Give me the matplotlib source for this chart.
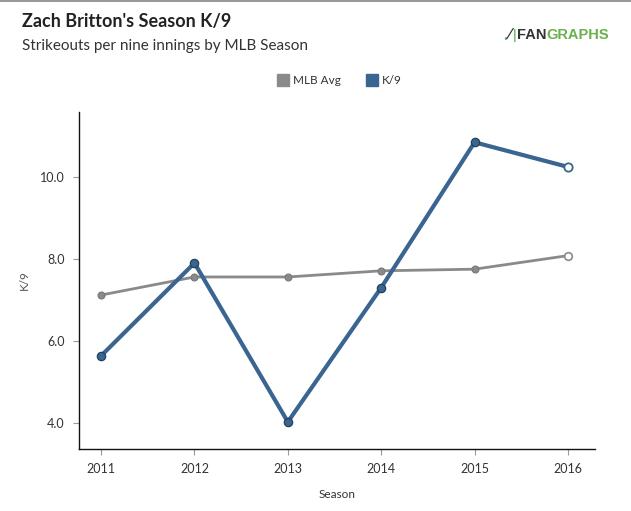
import matplotlib
matplotlib.use("Agg")
import matplotlib.pyplot as plt
from matplotlib.lines import Line2D
from matplotlib.patches import Rectangle

seasons = [2011, 2012, 2013, 2014, 2015, 2016]
mlb_avg = [7.12, 7.56, 7.56, 7.71, 7.75, 8.08]
k9 = [5.64, 7.90, 4.03, 7.30, 10.84, 10.24]
yticks = [4.0, 6.0, 8.0, 10.0]

title = "Zach Britton's Season K/9"
subtitle = "Strikeouts per nine innings by MLB Season"

plt.rcParams['font.family'] = ['Lato', 'DejaVu Sans']

blue = '#3a6591'
blue_edge = '#23405f'
gray = '#8a8a8a'
gray_edge = '#7a7a7a'

fig = plt.figure(figsize=(6.31, 5.11), dpi=100)
fig.patch.set_facecolor('white')
ax = fig.add_axes([0.1247, 0.1213, 0.943 - 0.1247, 0.781 - 0.1213])

ax.plot(seasons, mlb_avg, color=gray, lw=2.0, zorder=2)
ax.plot(seasons[:-1], mlb_avg[:-1], 'o', ms=5, color=gray, mec=gray_edge, mew=0.8, zorder=3)
ax.plot(seasons[-1:], mlb_avg[-1:], 'o', ms=5.5, mfc='white', mec=gray, mew=1.2, zorder=3)

ax.plot(seasons, k9, color=blue, lw=3.0, zorder=4)
ax.plot(seasons[:-1], k9[:-1], 'o', ms=6, color=blue, mec=blue_edge, mew=0.9, zorder=5)
ax.plot(seasons[-1:], k9[-1:], 'o', ms=6, mfc='white', mec=blue, mew=1.3, zorder=5)

ax.set_xlim(2010.76, 2016.29)
ax.set_ylim(3.37, 11.58)
ax.set_xticks(seasons)
ax.set_xticklabels([str(s) for s in seasons])
ax.set_yticks(yticks)
ax.set_yticklabels(["%.1f" % v for v in yticks])

for s in ['top', 'right']:
    ax.spines[s].set_visible(False)
for s in ['left', 'bottom']:
    ax.spines[s].set_color('#111111')
    ax.spines[s].set_linewidth(1.0)
ax.tick_params(axis='both', colors='#999999', labelcolor='#333333', labelsize=9, length=4, width=0.8, pad=6)

ax.set_xlabel("Season", fontsize=8.5, color='#333333', labelpad=10)
ax.set_ylabel("K/9", fontsize=8.5, color='#555555', labelpad=7)

fig.text(22/631, 1 - 22/511, title, fontsize=13, fontweight='bold', color='#222222', va='center', ha='left')
fig.text(22/631, 1 - 46/511, subtitle, fontsize=11, color='#333333', va='center', ha='left')

# logo
fig.text(503/631, 1 - 35/511, ".", fontsize=12, fontweight='bold', color='#5cb85c', va='center', ha='left')
fig.text(508/631, 1 - 35/511, "\u2044", fontsize=11, fontweight='bold', color='#333333', va='center', ha='left')
fig.text(513/631, 1 - 35/511, "|", fontsize=10, fontweight='bold', color='#5cb85c', va='center', ha='left')
t1 = fig.text(517/631, 1 - 35/511, "FAN", fontsize=10.5, fontweight='bold', color='#333333', va='center', ha='left', family=['Liberation Sans', 'DejaVu Sans'])
fig.canvas.draw()
bb = t1.get_window_extent()
fig.text(bb.x1 / fig.bbox.width, 1 - 35/511, "GRAPHS", fontsize=10.5, fontweight='bold', color='#6ab04c', va='center', ha='left', family=['Liberation Sans', 'DejaVu Sans'])

# top border
fig.add_artist(Rectangle((0, 1 - 2/511), 1, 2/511, transform=fig.transFigure, color='#999999', lw=0))

handles = [Line2D([], [], marker='s', ls='none', ms=9, color=gray),
           Line2D([], [], marker='s', ls='none', ms=9, color=blue)]
fig.legend(handles, ["MLB Avg", "K/9"], loc='center', bbox_to_anchor=(340/631, 1 - 81/511), ncol=2,
           frameon=False, fontsize=8.5, handlelength=0.8, handletextpad=0.5, columnspacing=2.2,
           labelcolor='#333333')

fig.savefig("out.png", dpi=100, facecolor='white')
